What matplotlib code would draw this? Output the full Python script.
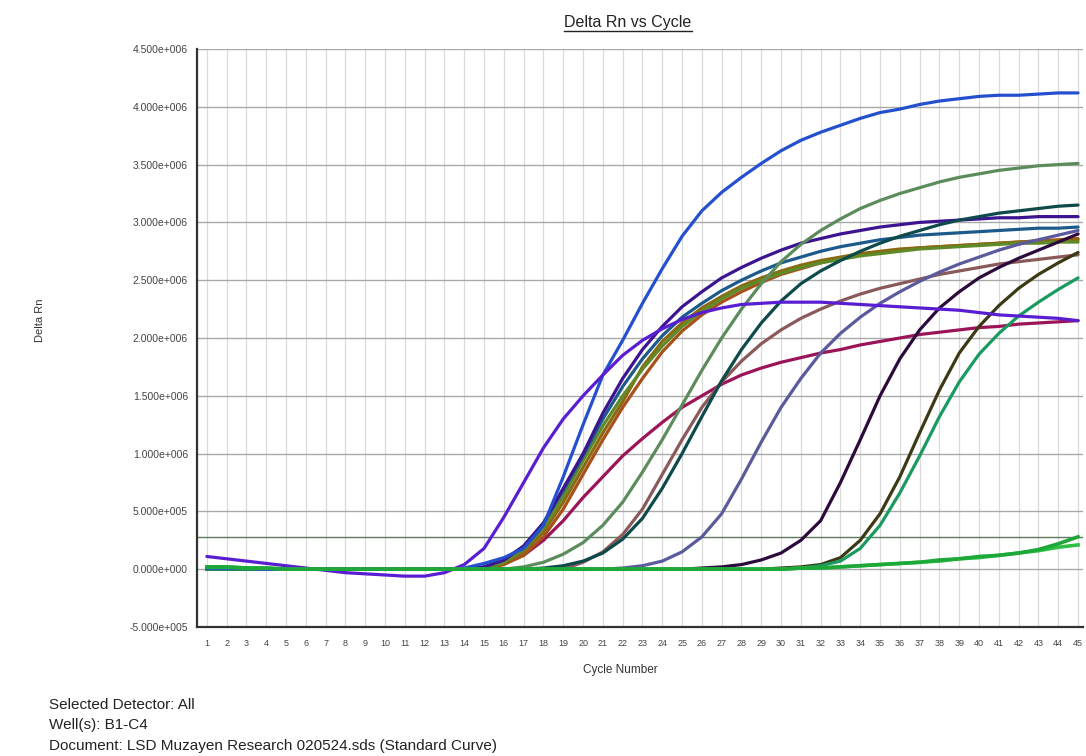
import numpy as np
import matplotlib
matplotlib.use('Agg')
import matplotlib.pyplot as plt
from matplotlib.lines import Line2D
from matplotlib.ticker import FuncFormatter, MultipleLocator

plt.rcParams['font.family'] = ['Liberation Sans', 'DejaVu Sans']

# Delta Rn per cycle (units of 1e6), one list per well
cycles = list(range(1, 46))

blue = [0.01, 0.01, 0.01, 0.0, 0.0, 0.0, 0.0, 0.0, 0.0, 0.0, 0.0, 0.0, 0.0,
        0.01, 0.05, 0.1, 0.18, 0.38, 0.8, 1.25, 1.68, 1.98, 2.3, 2.6, 2.88, 3.1,
        3.26, 3.39, 3.51, 3.62, 3.71, 3.78, 3.84, 3.9, 3.95, 3.98, 4.02, 4.05,
        4.07, 4.09, 4.1, 4.1, 4.11, 4.12, 4.12]
violet = [0.11, 0.09, 0.07, 0.05, 0.03, 0.01, -0.01, -0.03, -0.04, -0.05, -0.06,
          -0.06, -0.03, 0.04, 0.18, 0.45, 0.75, 1.05, 1.3, 1.5, 1.68, 1.85, 1.98,
          2.08, 2.16, 2.22, 2.26, 2.29, 2.3, 2.31, 2.31, 2.31, 2.3, 2.29, 2.28,
          2.27, 2.26, 2.25, 2.24, 2.22, 2.2, 2.19, 2.18, 2.17, 2.15]
indigo = [0.0, 0.0, 0.0, 0.0, 0.0, 0.0, 0.0, 0.0, 0.0, 0.0, 0.0, 0.0, 0.0, 0.0,
          0.02, 0.08, 0.2, 0.4, 0.7, 1.0, 1.35, 1.65, 1.9, 2.1, 2.27, 2.4, 2.52,
          2.61, 2.69, 2.76, 2.82, 2.86, 2.9, 2.93, 2.96, 2.98, 3.0, 3.01, 3.02,
          3.03, 3.04, 3.04, 3.05, 3.05, 3.05]
teal = [0.0, 0.0, 0.0, 0.0, 0.0, 0.0, 0.0, 0.0, 0.0, 0.0, 0.0, 0.0, 0.0, 0.0,
        0.02, 0.08, 0.2, 0.4, 0.68, 0.98, 1.3, 1.58, 1.82, 2.02, 2.18, 2.3, 2.41,
        2.5, 2.58, 2.65, 2.7, 2.75, 2.79, 2.82, 2.85, 2.87, 2.89, 2.9, 2.91, 2.92,
        2.93, 2.94, 2.95, 2.95, 2.96]
gold = [0.0, 0.0, 0.0, 0.0, 0.0, 0.0, 0.0, 0.0, 0.0, 0.0, 0.0, 0.0, 0.0, 0.0, 0.0,
        0.05, 0.15, 0.32, 0.58, 0.88, 1.18, 1.45, 1.75, 1.97, 2.13, 2.26, 2.36,
        2.45, 2.52, 2.58, 2.63, 2.67, 2.7, 2.73, 2.75, 2.77, 2.78, 2.79, 2.8, 2.81,
        2.82, 2.83, 2.84, 2.84, 2.85]
rust = [0.0, 0.0, 0.0, 0.0, 0.0, 0.0, 0.0, 0.0, 0.0, 0.0, 0.0, 0.0, 0.0, 0.0, 0.0,
        0.04, 0.12, 0.28, 0.52, 0.82, 1.12, 1.4, 1.65, 1.88, 2.06, 2.2, 2.31, 2.4,
        2.48, 2.55, 2.6, 2.65, 2.69, 2.72, 2.74, 2.76, 2.78, 2.79, 2.8, 2.81, 2.82,
        2.83, 2.84, 2.85, 2.86]
olive = [0.0, 0.0, 0.0, 0.0, 0.0, 0.0, 0.0, 0.0, 0.0, 0.0, 0.0, 0.0, 0.0, 0.0, 0.0,
         0.06, 0.17, 0.36, 0.63, 0.94, 1.24, 1.5, 1.73, 1.93, 2.1, 2.23, 2.34, 2.43,
         2.5, 2.56, 2.61, 2.65, 2.68, 2.71, 2.73, 2.75, 2.77, 2.78, 2.79, 2.8, 2.81,
         2.82, 2.82, 2.83, 2.83]
crimson = [0.0, 0.0, 0.0, 0.0, 0.0, 0.0, 0.0, 0.0, 0.0, 0.0, 0.0, 0.0, 0.0, 0.0,
           0.01, 0.05, 0.12, 0.25, 0.42, 0.62, 0.8, 0.98, 1.13, 1.27, 1.4, 1.5, 1.6,
           1.68, 1.74, 1.79, 1.83, 1.87, 1.9, 1.94, 1.97, 2.0, 2.03, 2.05, 2.07,
           2.09, 2.1, 2.12, 2.13, 2.14, 2.15]
sage = [0.0, 0.0, 0.0, 0.0, 0.0, 0.0, 0.0, 0.0, 0.0, 0.0, 0.0, 0.0, 0.0, 0.0, 0.0,
        0.0, 0.02, 0.06, 0.13, 0.23, 0.38, 0.58, 0.84, 1.12, 1.42, 1.72, 2.0, 2.25,
        2.47, 2.66, 2.81, 2.93, 3.03, 3.12, 3.19, 3.25, 3.3, 3.35, 3.39, 3.42,
        3.45, 3.47, 3.49, 3.5, 3.51]
dark_teal = [0.0, 0.0, 0.0, 0.0, 0.0, 0.0, 0.0, 0.0, 0.0, 0.0, 0.0, 0.0, 0.0, 0.0,
             0.0, 0.0, 0.0, 0.01, 0.03, 0.07, 0.14, 0.26, 0.44, 0.7, 1.0, 1.32,
             1.63, 1.9, 2.13, 2.32, 2.47, 2.58, 2.67, 2.75, 2.82, 2.88, 2.93, 2.98,
             3.02, 3.05, 3.08, 3.1, 3.12, 3.14, 3.15]
mauve = [0.0, 0.0, 0.0, 0.0, 0.0, 0.0, 0.0, 0.0, 0.0, 0.0, 0.0, 0.0, 0.0, 0.0, 0.0,
         0.0, 0.0, 0.0, 0.0, 0.06, 0.15, 0.3, 0.52, 0.82, 1.12, 1.4, 1.62, 1.8,
         1.95, 2.07, 2.17, 2.25, 2.32, 2.38, 2.43, 2.47, 2.51, 2.55, 2.58, 2.61,
         2.64, 2.66, 2.68, 2.7, 2.72]
slate = [0.0, 0.0, 0.0, 0.0, 0.0, 0.0, 0.0, 0.0, 0.0, 0.0, 0.0, 0.0, 0.0, 0.0, 0.0,
         0.0, 0.0, 0.0, 0.0, 0.0, 0.0, 0.01, 0.03, 0.07, 0.15, 0.28, 0.48, 0.78,
         1.1, 1.4, 1.65, 1.87, 2.04, 2.18, 2.3, 2.4, 2.49, 2.57, 2.64, 2.7, 2.76,
         2.81, 2.85, 2.89, 2.93]
plum = [0.0, 0.0, 0.0, 0.0, 0.0, 0.0, 0.0, 0.0, 0.0, 0.0, 0.0, 0.0, 0.0, 0.0, 0.0,
        0.0, 0.0, 0.0, 0.0, 0.0, 0.0, 0.0, 0.0, 0.0, 0.0, 0.01, 0.02, 0.04, 0.08,
        0.14, 0.25, 0.42, 0.75, 1.12, 1.5, 1.82, 2.07, 2.26, 2.4, 2.52, 2.61,
        2.69, 2.76, 2.83, 2.9]
dark_olive = [0.0, 0.0, 0.0, 0.0, 0.0, 0.0, 0.0, 0.0, 0.0, 0.0, 0.0, 0.0, 0.0, 0.0,
              0.0, 0.0, 0.0, 0.0, 0.0, 0.0, 0.0, 0.0, 0.0, 0.0, 0.0, 0.0, 0.0, 0.0,
              0.0, 0.01, 0.02, 0.04, 0.1, 0.25, 0.48, 0.8, 1.18, 1.55, 1.87, 2.1,
              2.28, 2.43, 2.55, 2.65, 2.74]
sea_green = [0.0, 0.0, 0.0, 0.0, 0.0, 0.0, 0.0, 0.0, 0.0, 0.0, 0.0, 0.0, 0.0, 0.0,
             0.0, 0.0, 0.0, 0.0, 0.0, 0.0, 0.0, 0.0, 0.0, 0.0, 0.0, 0.0, 0.0, 0.0,
             0.0, 0.0, 0.01, 0.03, 0.07, 0.18, 0.38, 0.66, 0.98, 1.32, 1.62, 1.86,
             2.04, 2.19, 2.31, 2.42, 2.52]
ntc_a = [0.02, 0.02, 0.01, 0.01, 0.0, 0.0, 0.0, 0.0, 0.0, 0.0, 0.0, 0.0, 0.0, 0.0,
         0.0, 0.0, 0.0, 0.0, 0.0, 0.0, 0.0, 0.0, 0.0, 0.0, 0.0, 0.0, 0.0, 0.0, 0.0,
         0.0, 0.01, 0.01, 0.02, 0.03, 0.04, 0.05, 0.06, 0.08, 0.09, 0.11, 0.12,
         0.14, 0.17, 0.22, 0.28]
ntc_b = [0.02, 0.02, 0.01, 0.01, 0.0, 0.0, 0.0, 0.0, 0.0, 0.0, 0.0, 0.0, 0.0, 0.0,
         0.0, 0.0, 0.0, 0.0, 0.0, 0.0, 0.0, 0.0, 0.0, 0.0, 0.0, 0.0, 0.0, 0.0, 0.0,
         0.0, 0.01, 0.01, 0.02, 0.03, 0.04, 0.05, 0.06, 0.07, 0.09, 0.1, 0.12,
         0.14, 0.16, 0.19, 0.21]

threshold = 0.28

wells = [
    (crimson, '#9c1458'), (mauve, '#8a5a5a'), (rust, '#a8501a'),
    (gold, '#8a6a10'), (olive, '#5f8a2a'), (teal, '#1c5a8c'),
    (indigo, '#3c1490'), (dark_teal, '#0e4a4a'), (sage, '#5c8c5c'),
    (slate, '#5a5a9c'), (plum, '#2c0a3c'), (dark_olive, '#3c3a14'),
    (sea_green, '#1a9a60'), (blue, '#2450d0'), (violet, '#5a1ed2'),
]

fig = plt.figure(figsize=(10.86, 7.56), dpi=100)
ax = fig.add_axes([197 / 1086, 1 - 627 / 756, 886 / 1086, 578 / 756])

ax.set_xlim(0.5, 45.25)
ax.set_ylim(-0.5e6, 4.5e6)

# grid: light verticals per cycle, darker horizontals every 0.5e6
for c in cycles:
    ax.axvline(c, color='#dadada', lw=0.9, zorder=0)
for v in np.arange(-0.5, 4.51, 0.5):
    ax.axhline(v * 1e6, color='#a9a9a9', lw=1.0, zorder=0)
ax.axhline(threshold * 1e6, color='#5f7a5f', lw=1.0, zorder=1)

for vals, col in wells:
    ax.plot(cycles, np.array(vals) * 1e6, color=col, lw=2.3, zorder=3,
            solid_capstyle='round')
ax.plot(cycles, np.array(ntc_b) * 1e6, color='#2fbf45', lw=2.6, zorder=4)
ax.plot(cycles, np.array(ntc_a) * 1e6, color='#1fa83a', lw=2.6, zorder=4)


def sci(v, pos):
    if v == 0:
        return '0.000e+000'
    exp = int(np.floor(np.log10(abs(v))))
    man = v / 10 ** exp
    return f'{man:.3f}e+{exp:03d}'


ax.yaxis.set_major_locator(MultipleLocator(0.5e6))
ax.yaxis.set_major_formatter(FuncFormatter(sci))
ax.set_xticks(cycles)
ax.tick_params(axis='both', length=0, colors='#444444')
ax.tick_params(axis='y', labelsize=7.5, pad=6.5)
ax.tick_params(axis='x', labelsize=6.5, pad=9)

for side in ['top', 'right']:
    ax.spines[side].set_visible(False)
for side in ['left', 'bottom']:
    ax.spines[side].set_color('#333333')
    ax.spines[side].set_linewidth(1.6)
    ax.spines[side].set_zorder(5)

title = fig.text(628 / 1086, 1 - 22 / 756, 'Delta Rn vs Cycle', ha='center',
                 va='center', fontsize=11.5, color='#222222')
fig.text(40 / 1086, 1 - 320 / 756, 'Delta Rn', rotation=90, ha='center',
         va='center', fontsize=8, color='#333333')
fig.text(620 / 1086, 1 - 670 / 756, 'Cycle Number', ha='center', va='center',
         fontsize=8.5, color='#333333')

footer = ['Selected Detector: All', 'Well(s): B1-C4',
          'Document: LSD Muzayen Research 020524.sds (Standard Curve)']
for i, line in enumerate(footer):
    fig.text(49 / 1086, 1 - (705 + 20.5 * i) / 756, line, ha='left',
             va='center', fontsize=11, color='#222222')

# underline the title
fig.canvas.draw()
bb = title.get_window_extent().transformed(fig.transFigure.inverted())
fig.add_artist(Line2D([bb.x0, bb.x1], [bb.y0 - 0.002, bb.y0 - 0.002],
                      transform=fig.transFigure, color='#222222', lw=1.0))

fig.savefig('out.png', dpi=100)
